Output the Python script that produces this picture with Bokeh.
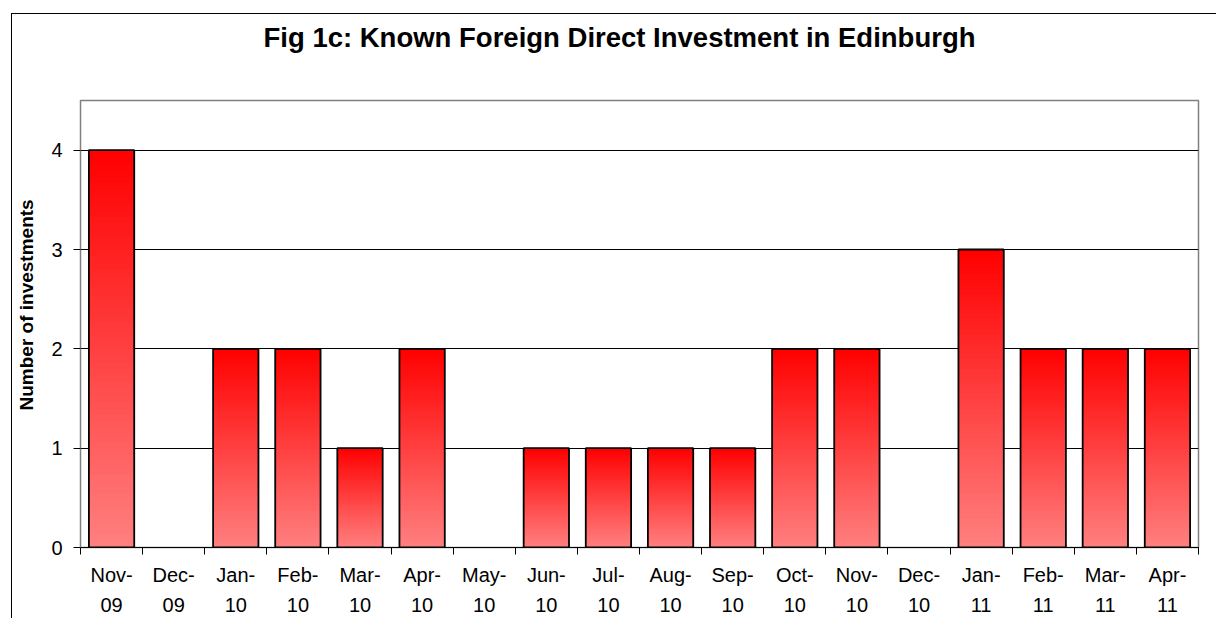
import numpy as np
from bokeh.plotting import figure
from bokeh.models import Range1d, FixedTicker, Title
from bokeh.embed import file_html
from bokeh.resources import INLINE

# ---- data ----
months = ["Nov-\n09", "Dec-\n09", "Jan-\n10", "Feb-\n10", "Mar-\n10", "Apr-\n10",
          "May-\n10", "Jun-\n10", "Jul-\n10", "Aug-\n10", "Sep-\n10", "Oct-\n10",
          "Nov-\n10", "Dec-\n10", "Jan-\n11", "Feb-\n11", "Mar-\n11", "Apr-\n11"]
investments = [4, 0, 2, 2, 1, 2, 0, 1, 1, 1, 1, 2, 2, 0, 3, 2, 2, 2]
y_ticks = [0, 1, 2, 3, 4]
grid_ticks = [1, 2, 3, 4]
title_text = "Fig 1c: Known Foreign Direct Investment in Edinburgh"
y_label_text = "Number of investments"

FONT = "Liberation Sans"
n = len(months)
xs = np.arange(n) + 0.5

p = figure(width=1205, height=605, title=None,
           x_range=Range1d(0, n), y_range=Range1d(0, 4.5),
           output_backend="svg", toolbar_location=None,
           min_border_left=68, min_border_right=19,
           min_border_top=86, min_border_bottom=72,
           background_fill_color="white", border_fill_color="white")
p.styles = {"margin-left": "11px", "margin-top": "13px",
            "border-left": "1px solid black", "border-top": "1px solid black"}

p.outline_line_color = "#808080"
p.outline_line_width = 1.5

# title: spacer next to the frame, then the real title further out
p.add_layout(Title(text=" ", text_font_size="1px", standoff=44), "above")
p.add_layout(Title(text=title_text, align="left", offset=183, standoff=2,
                   text_font=FONT, text_font_size="27.5px", text_font_style="bold",
                   text_color="black"), "above")

# y label: spacer next to the axis, then the label
p.add_layout(Title(text=" ", text_font_size="1px", standoff=8), "left")
p.add_layout(Title(text=y_label_text, align="left", offset=137, standoff=2,
                   text_font=FONT, text_font_size="19px", text_font_style="bold",
                   text_color="black"), "left")

# grid
p.xgrid.visible = False
p.ygrid.ticker = FixedTicker(ticks=grid_ticks)
p.ygrid.grid_line_color = "black"
p.ygrid.grid_line_width = 1

# x axis
xa = p.xaxis[0]
xa.ticker = FixedTicker(ticks=list(xs), minor_ticks=list(range(n + 1)))
xa.major_label_overrides = {float(x): m for x, m in zip(xs, months)}
xa.major_tick_line_color = None
xa.major_tick_out = 7
xa.major_tick_in = 0
xa.minor_tick_line_color = "black"
xa.minor_tick_out = 7
xa.minor_tick_in = 0
xa.axis_line_color = "black"
xa.major_label_text_font = FONT
xa.major_label_text_font_size = "20px"
xa.major_label_text_color = "black"
xa.major_label_text_line_height = 1.4
xa.major_label_standoff = 9

# y axis
ya = p.yaxis[0]
ya.ticker = FixedTicker(ticks=y_ticks)
ya.minor_tick_line_color = None
ya.major_tick_out = 7
ya.major_tick_in = 0
ya.major_tick_line_color = "black"
ya.axis_line_color = "#808080"
ya.major_label_text_font = FONT
ya.major_label_text_font_size = "20px"
ya.major_label_text_color = "black"
ya.major_label_standoff = 11

# gradient bars: overlapping slices stacked upward (no seams)
N = 60
top_rgb = np.array([255, 0, 0])
bot_rgb = np.array([255, 128, 128])
sx, sb, st, sc = [], [], [], []
for x, v in zip(xs, investments):
    if v <= 0:
        continue
    for k in range(N):
        b = v * k / N
        f = (k + 0.5) / N  # 0 bottom -> 1 top
        rgb = bot_rgb + (top_rgb - bot_rgb) * f
        sx.append(x); sb.append(b); st.append(v)
        sc.append("#%02x%02x%02x" % tuple(int(round(c)) for c in rgb))
p.vbar(x=sx, bottom=sb, top=st, width=0.73, fill_color=sc, line_color=None)

bx = [x for x, v in zip(xs, investments) if v > 0]
bv = [v for v in investments if v > 0]
p.vbar(x=bx, bottom=0, top=bv, width=0.73, fill_color=None, line_color="black", line_width=1.8)

open("out.html", "w").write(file_html(p, INLINE))
